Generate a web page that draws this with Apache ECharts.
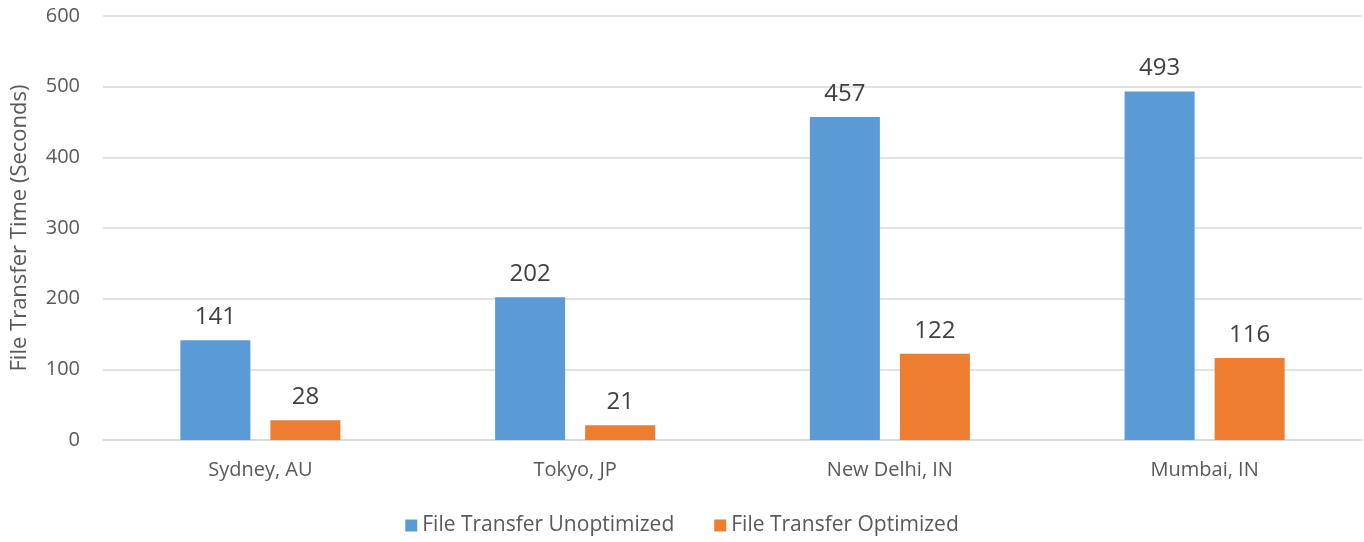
<!DOCTYPE html>
<html>
<head>
<meta charset="utf-8">
<script src="https://cdn.jsdelivr.net/npm/echarts@6/dist/echarts.min.js"></script>
<style>
  html, body { margin: 0; padding: 0; background: #fff; }
  #chart { width: 1364px; height: 542px; }
</style>
</head>
<body>
<div id="chart"></div>
<script>
const categories = ["Sydney, AU", "Tokyo, JP", "New Delhi, IN", "Mumbai, IN"];
const unoptimized = [141, 202, 457, 493];
const optimized = [28, 21, 122, 116];
const seriesNames = ["File Transfer Unoptimized", "File Transfer Optimized"];
const colors = ["#5B9BD5", "#ED7D31"];

const font = "'Open Sans', 'Noto Sans', sans-serif";
const chart = echarts.init(document.getElementById("chart"));

const label = {
  show: true,
  position: "top",
  distance: 11,
  fontFamily: font,
  fontSize: 24,
  color: "#404040"
};

chart.setOption({
  animation: false,
  color: colors,
  grid: { left: 103, right: 2, top: 16, bottom: 102 },
  legend: {
    data: seriesNames,
    bottom: 1,
    left: "center",
    itemWidth: 12,
    itemHeight: 12,
    itemGap: 40,
    icon: "rect",
    textStyle: { fontFamily: font, fontSize: 21, color: "#595959" }
  },
  xAxis: {
    type: "category",
    data: categories,
    axisLine: { lineStyle: { color: "#d9d9d9", width: 1.5 } },
    axisTick: { show: false },
    axisLabel: { margin: 20, fontFamily: font, fontSize: 20, color: "#595959" }
  },
  yAxis: {
    type: "value",
    min: 0,
    max: 600,
    interval: 100,
    name: "File Transfer Time (Seconds)",
    nameLocation: "middle",
    nameGap: 72,
    nameTextStyle: { fontFamily: font, fontSize: 22, color: "#595959" },
    axisLine: { show: false },
    axisTick: { show: false },
    axisLabel: { margin: 23, fontFamily: font, fontSize: 20, color: "#595959" },
    splitLine: { lineStyle: { color: "#d9d9d9", width: 1.5 } }
  },
  series: [
    {
      name: seriesNames[0],
      type: "bar",
      data: unoptimized,
      barWidth: 70,
      barGap: "28.6%",
      label: label
    },
    {
      name: seriesNames[1],
      type: "bar",
      data: optimized,
      barWidth: 70,
      barGap: "28.6%",
      label: label
    }
  ]
});
</script>
</body>
</html>
